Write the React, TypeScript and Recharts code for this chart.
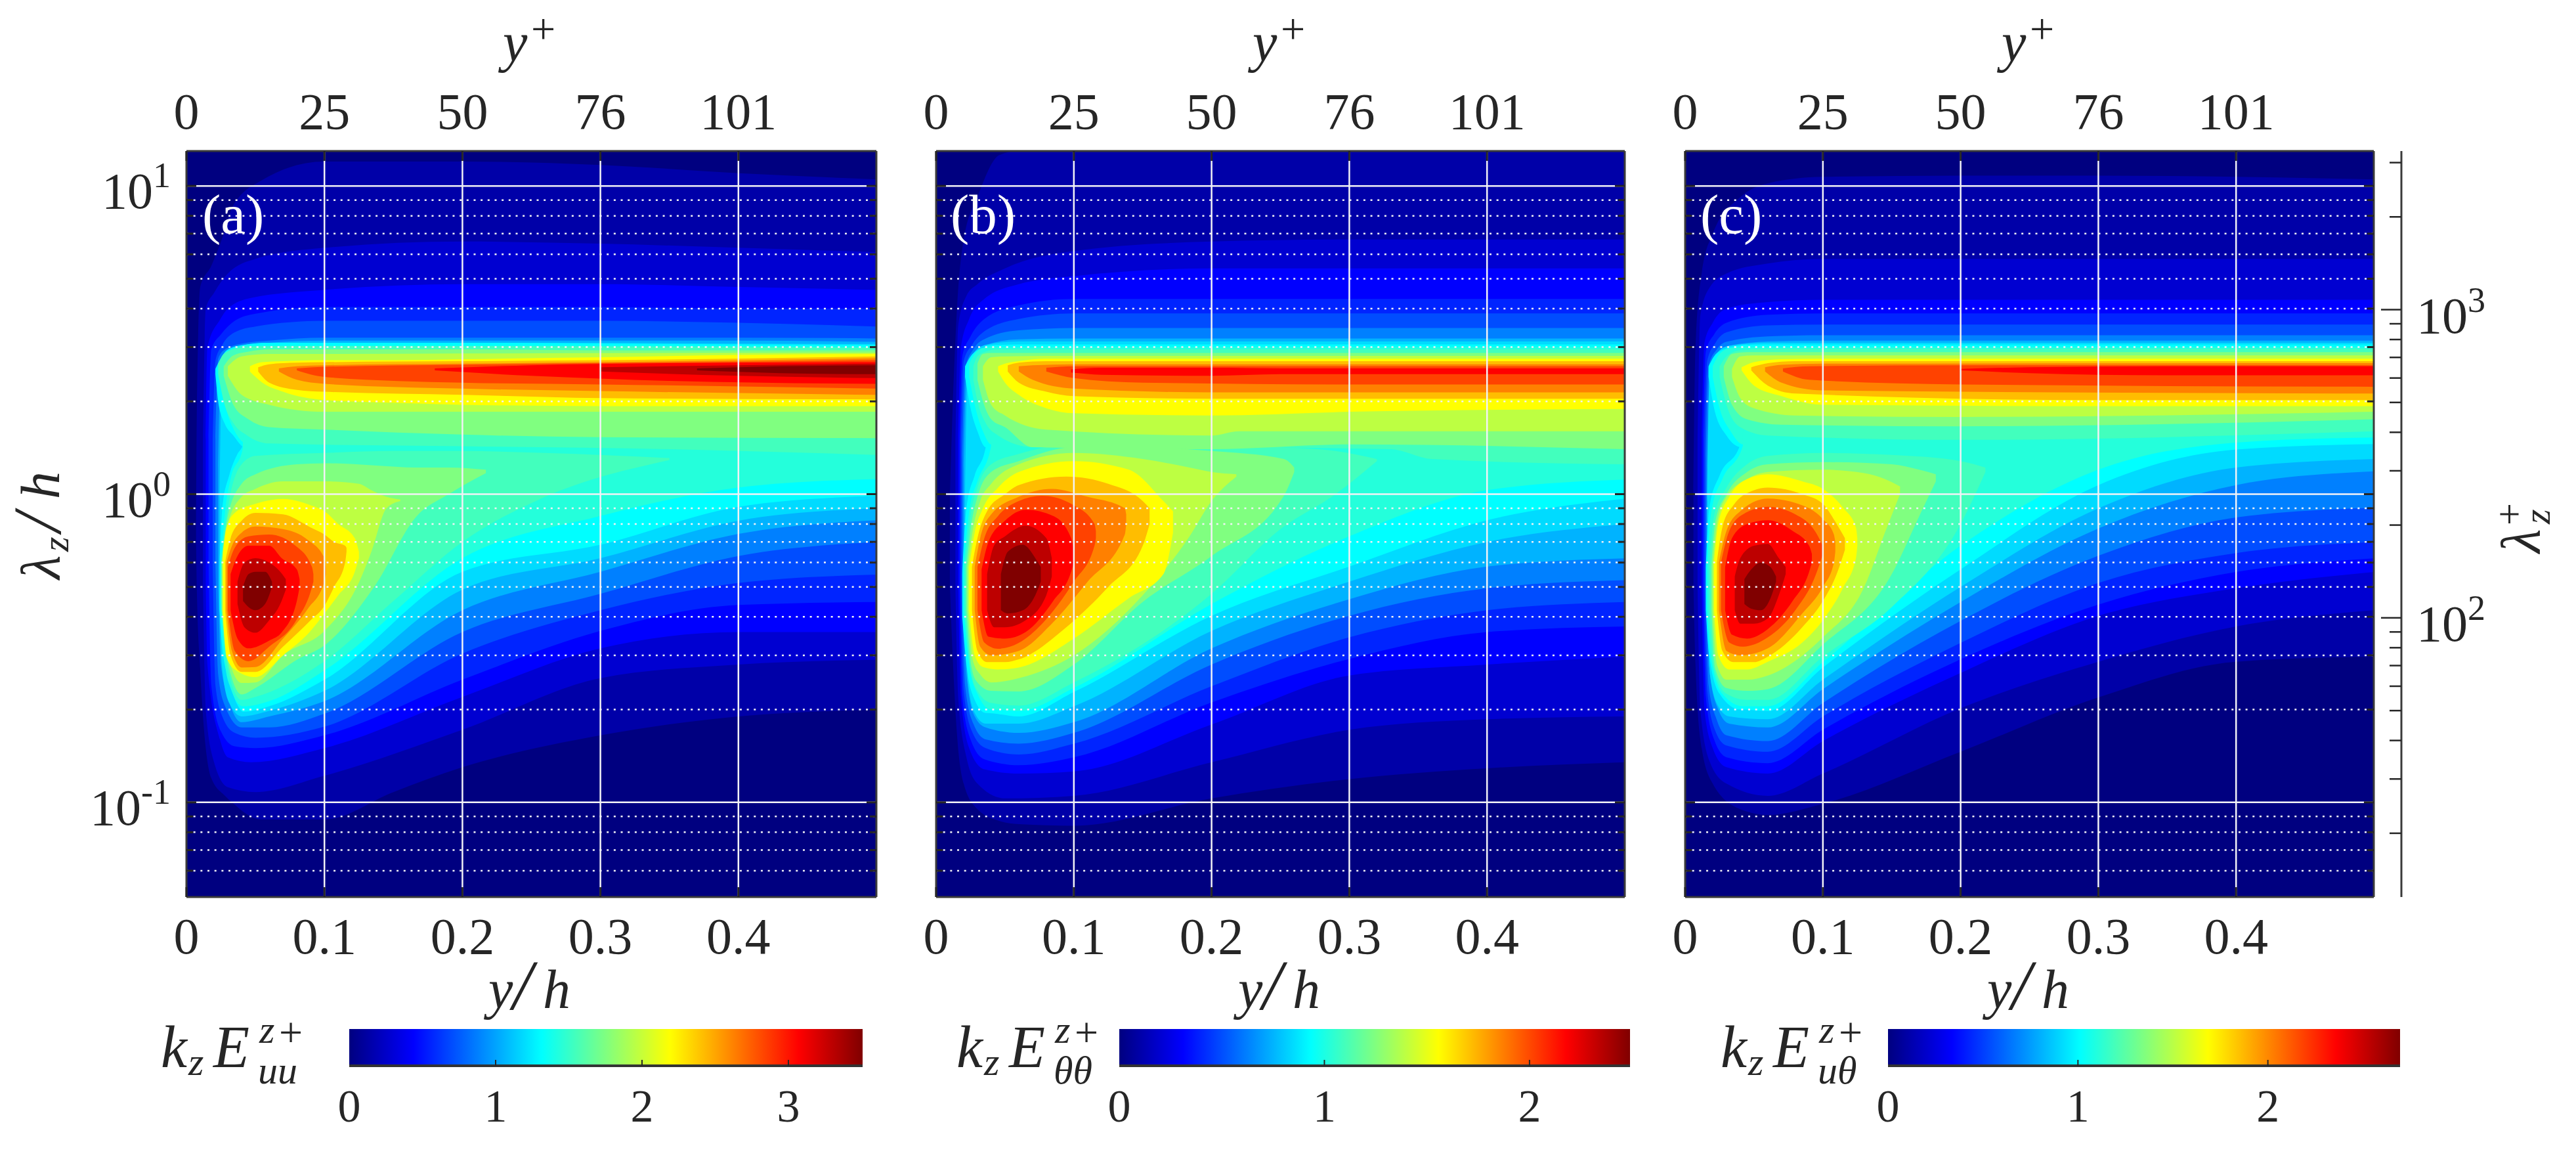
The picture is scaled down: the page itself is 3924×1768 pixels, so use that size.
import React from "react";
import { ComposedChart, Area, XAxis, YAxis, ReferenceLine } from "recharts";

type Row = [number, number, number];
type Contour = [number, Row[]];

const LAMBDA_DOMAIN = [0.0493, 12.98];
const YH_TICKS = [0, 0.1, 0.2, 0.3, 0.4];
const YPLUS_TICKS = [0, 25.2, 50.4, 75.6, 100.8];
const DECADES = [0.1, 1, 10];
const MINORS = [0.06, 0.07, 0.08, 0.09, 0.2, 0.3, 0.4, 0.5, 0.6, 0.7, 0.8, 0.9, 2, 3, 4, 5, 6, 7, 8, 9];
const LPLUS_TICKS = [20, 30, 40, 50, 60, 70, 80, 90, 100, 200, 300, 400, 500, 600, 700, 800, 900, 1000, 2000, 3000];
const BACKGROUND: Row[] = [[0, 0.0493, 12.98], [0.5, 0.0493, 12.98]];
const JET_STOPS = [0, 0.125, 0.375, 0.625, 0.875, 1];

// contours: [colormap fraction, rows of [y/h, lambda low, lambda high]]
const panelAContours: Contour[] = [
  [0.04, [[0.007, 0.7, 0.9], [0.0075, 0.5, 1.8], [0.01, 0.27, 4.7], [0.018, 0.12, 5.5], [0.028, 0.105, 7.2], [0.033, 0.1, 8.5], [0.054, 0.088, 10.4], [0.1, 0.088, 12], [0.15, 0.108, 12], [0.2, 0.13, 12], [0.3, 0.165, 11.7], [0.4, 0.19, 11], [0.5, 0.2, 10.5]]],
  [0.08, [[0.012, 0.5, 1.5], [0.014, 0.2, 4.0], [0.02, 0.135, 4.5], [0.03, 0.112, 5.2], [0.05, 0.108, 5.8], [0.1, 0.122, 6.3], [0.2, 0.172, 6.6], [0.3, 0.253, 6.5], [0.4, 0.28, 6.3], [0.5, 0.29, 6.1]]],
  [0.125, [[0.014, 0.5, 1.5], [0.0152, 0.28, 3.0], [0.0243, 0.16, 3.68], [0.03, 0.14, 4.0], [0.0467, 0.135, 4.33], [0.1, 0.15, 4.6], [0.2, 0.22, 4.8], [0.3, 0.316, 4.8], [0.4, 0.357, 4.7], [0.5, 0.357, 4.6]]],
  [0.16, [[0.016, 0.6, 1.5], [0.018, 0.24, 2.95], [0.025, 0.17, 3.3], [0.035, 0.152, 3.65], [0.05, 0.15, 3.85], [0.1, 0.165, 4.05], [0.2, 0.25, 4.05], [0.3, 0.36, 4.05], [0.4, 0.437, 4.0], [0.5, 0.447, 4.0]]],
  [0.2, [[0.019, 0.6, 1.5], [0.021, 0.24, 2.7], [0.026, 0.19, 3.05], [0.035, 0.168, 3.35], [0.05, 0.162, 3.5], [0.1, 0.176, 3.65], [0.2, 0.304, 3.65], [0.3, 0.42, 3.65], [0.4, 0.515, 3.6], [0.5, 0.548, 3.5]]],
  [0.25, [[0.021, 0.6, 1.5], [0.023, 0.26, 2.75], [0.028, 0.205, 2.95], [0.04, 0.175, 3.08], [0.06, 0.175, 3.15], [0.1, 0.194, 3.22], [0.2, 0.357, 3.22], [0.3, 0.475, 3.22], [0.4, 0.63, 3.22], [0.5, 0.7, 3.2]]],
  [0.3, [[0.023, 0.5, 1.2], [0.025, 0.28, 2.7], [0.03, 0.22, 2.9], [0.04, 0.182, 3.03], [0.06, 0.19, 3.1], [0.1, 0.213, 3.15], [0.2, 0.42, 3.15], [0.3, 0.56, 3.15], [0.4, 0.743, 3.15], [0.5, 0.823, 3.12]]],
  [0.34, [[0.024, 0.45, 0.9], [0.026, 0.27, 2.6], [0.031, 0.21, 2.88], [0.04, 0.19, 3.0], [0.06, 0.198, 3.07], [0.1, 0.23, 3.1], [0.2, 0.49, 3.1], [0.3, 0.62, 3.1], [0.4, 0.82, 3.08], [0.5, 0.9, 3.07]]],
  [0.375, [[0.021, 2.45, 2.55], [0.023, 2.0, 2.66], [0.0276, 1.7, 2.88], [0.034, 1.55, 3.0], [0.042, 1.42, 3.05], [0.0576, 1.4, 3.1]]],
  [0.375, [[0.024, 0.42, 0.6], [0.026, 0.316, 0.9], [0.031, 0.248, 1.15], [0.037, 0.207, 1.35], [0.041, 0.197, 1.45], [0.0415, 0.197, 3.05], [0.06, 0.205, 3.1], [0.1, 0.25, 3.1], [0.2, 0.56, 3.1], [0.3, 0.685, 3.08], [0.4, 0.91, 3.06], [0.5, 0.988, 3.05]]],
  [0.41, [[0.024, 2.42, 2.6], [0.028, 1.95, 2.85], [0.035, 1.6, 2.98], [0.043, 1.45, 3.03], [0.047, 1.42, 3.03]]],
  [0.41, [[0.025, 0.42, 0.6], [0.028, 0.28, 0.88], [0.032, 0.235, 1.12], [0.041, 0.205, 1.42], [0.0415, 0.205, 3.03], [0.06, 0.213, 3.03], [0.1, 0.268, 3.03], [0.2, 0.62, 3.03], [0.3, 0.85, 3.03], [0.4, 1.05, 3.02], [0.5, 1.12, 3.0]]],
  [0.44, [[0.023, 2.45, 2.65], [0.027, 2.0, 2.85], [0.034, 1.7, 2.95], [0.044, 1.55, 3.0], [0.06, 1.46, 3.02], [0.2, 1.43, 3.02], [0.35, 1.4, 3.0], [0.5, 1.34, 2.98]]],
  [0.44, [[0.025, 0.45, 0.6], [0.03, 0.27, 0.9], [0.04, 0.215, 1.25], [0.05, 0.22, 1.33], [0.1, 0.287, 1.36], [0.15, 0.45, 1.38], [0.2, 0.7, 1.38], [0.26, 0.98, 1.36], [0.35, 1.29, 1.31]]],
  [0.5, [[0.027, 2.42, 2.6], [0.034, 1.95, 2.82], [0.045, 1.75, 2.9], [0.06, 1.65, 2.95], [0.1, 1.62, 2.95], [0.2, 1.56, 2.95], [0.3, 1.53, 2.93], [0.5, 1.52, 2.93]]],
  [0.5, [[0.0255, 0.42, 0.6], [0.03, 0.285, 0.85], [0.04, 0.224, 1.08], [0.05, 0.235, 1.16], [0.08, 0.29, 1.25], [0.1, 0.323, 1.26], [0.136, 0.5, 1.24], [0.167, 0.85, 1.22], [0.19, 1.0, 1.22], [0.217, 1.17, 1.2]]],
  [0.56, [[0.03, 2.42, 2.6], [0.04, 2.1, 2.8], [0.06, 1.95, 2.85], [0.1, 1.85, 2.85], [0.2, 1.85, 2.86], [0.5, 1.85, 2.88]]],
  [0.56, [[0.026, 0.42, 0.62], [0.03, 0.3, 0.8], [0.04, 0.244, 0.98], [0.05, 0.245, 1.04], [0.07, 0.3, 1.1], [0.1, 0.36, 1.1], [0.125, 0.517, 1.08], [0.134, 0.65, 1.03], [0.145, 0.9, 0.98], [0.155, 0.95, 0.96]]],
  [0.625, [[0.046, 2.5, 2.6], [0.055, 2.3, 2.68], [0.07, 2.15, 2.7], [0.1, 2.02, 2.72], [0.15, 1.98, 2.72], [0.2, 1.95, 2.74], [0.3, 1.93, 2.78], [0.4, 1.93, 2.83], [0.5, 1.93, 2.85]]],
  [0.625, [[0.0265, 0.4, 0.65], [0.029, 0.297, 0.78], [0.035, 0.27, 0.87], [0.05, 0.255, 0.93], [0.07, 0.3, 0.965], [0.09, 0.36, 0.92], [0.1, 0.41, 0.88], [0.11, 0.47, 0.8], [0.122, 0.56, 0.72], [0.125, 0.62, 0.65]]],
  [0.69, [[0.052, 2.5, 2.58], [0.06, 2.3, 2.64], [0.08, 2.18, 2.67], [0.1, 2.15, 2.68], [0.2, 2.1, 2.7], [0.3, 2.05, 2.72], [0.5, 2.03, 2.8]]],
  [0.69, [[0.028, 0.42, 0.6], [0.032, 0.3, 0.72], [0.04, 0.265, 0.82], [0.05, 0.265, 0.87], [0.07, 0.32, 0.86], [0.09, 0.39, 0.78], [0.1, 0.434, 0.74], [0.107, 0.5, 0.7], [0.115, 0.6, 0.68], [0.116, 0.65, 0.67]]],
  [0.75, [[0.067, 2.5, 2.56], [0.08, 2.35, 2.6], [0.1, 2.28, 2.62], [0.2, 2.2, 2.65], [0.3, 2.16, 2.68], [0.5, 2.1, 2.76]]],
  [0.75, [[0.029, 0.42, 0.6], [0.033, 0.31, 0.68], [0.04, 0.274, 0.75], [0.05, 0.275, 0.785], [0.07, 0.34, 0.77], [0.088, 0.425, 0.71], [0.1, 0.52, 0.62], [0.101, 0.55, 0.58]]],
  [0.81, [[0.08, 2.52, 2.56], [0.1, 2.4, 2.59], [0.2, 2.3, 2.63], [0.3, 2.27, 2.66], [0.5, 2.2, 2.72]]],
  [0.81, [[0.03, 0.42, 0.58], [0.035, 0.31, 0.67], [0.045, 0.287, 0.73], [0.06, 0.32, 0.74], [0.079, 0.386, 0.68], [0.091, 0.5, 0.58], [0.092, 0.52, 0.55]]],
  [0.875, [[0.18, 2.52, 2.56], [0.25, 2.42, 2.62], [0.35, 2.33, 2.66], [0.5, 2.28, 2.68]]],
  [0.875, [[0.032, 0.42, 0.55], [0.037, 0.34, 0.63], [0.045, 0.316, 0.68], [0.06, 0.335, 0.68], [0.069, 0.356, 0.62], [0.08, 0.45, 0.57], [0.082, 0.5, 0.53]]],
  [0.94, [[0.3, 2.5, 2.58], [0.4, 2.42, 2.62], [0.5, 2.38, 2.65]]],
  [0.94, [[0.037, 0.44, 0.52], [0.042, 0.37, 0.6], [0.05, 0.355, 0.62], [0.06, 0.39, 0.6], [0.068, 0.44, 0.56], [0.072, 0.49, 0.53]]],
  [1, [[0.37, 2.52, 2.56], [0.43, 2.47, 2.6], [0.5, 2.45, 2.62]]],
  [1, [[0.041, 0.45, 0.5], [0.045, 0.43, 0.55], [0.05, 0.42, 0.56], [0.057, 0.44, 0.56], [0.062, 0.5, 0.52]]],
];

const panelBContours: Contour[] = [
  [0.04, [[0.01, 0.5, 1], [0.012, 0.3, 1.9], [0.015, 0.17, 3.9], [0.02, 0.115, 6.7], [0.03, 0.095, 9.2], [0.046, 0.087, 12.6], [0.06, 0.085, 12.98], [0.1, 0.084, 12.98], [0.2, 0.103, 12.98], [0.3, 0.119, 12.98], [0.4, 0.129, 12.98], [0.5, 0.135, 12.98]]],
  [0.08, [[0.014, 0.5, 1.5], [0.016, 0.22, 3.5], [0.022, 0.14, 4.4], [0.03, 0.115, 4.8], [0.05, 0.103, 5.4], [0.1, 0.105, 6.15], [0.2, 0.135, 6.6], [0.3, 0.172, 6.7], [0.4, 0.186, 6.7], [0.5, 0.19, 6.7]]],
  [0.125, [[0.016, 0.5, 1.5], [0.018, 0.22, 3.0], [0.024, 0.15, 3.7], [0.035, 0.128, 4.3], [0.06, 0.124, 4.8], [0.1, 0.126, 5.1], [0.2, 0.179, 5.4], [0.3, 0.258, 5.4], [0.4, 0.28, 5.4], [0.5, 0.297, 5.4]]],
  [0.16, [[0.017, 0.5, 1.5], [0.019, 0.22, 2.8], [0.025, 0.16, 3.25], [0.035, 0.138, 3.7], [0.06, 0.132, 4.1], [0.1, 0.14, 4.3], [0.2, 0.211, 4.3], [0.3, 0.292, 4.3], [0.4, 0.357, 4.3], [0.5, 0.372, 4.3]]],
  [0.2, [[0.018, 0.5, 1.5], [0.02, 0.23, 2.7], [0.026, 0.17, 3.05], [0.036, 0.15, 3.4], [0.06, 0.143, 3.7], [0.1, 0.155, 3.86], [0.2, 0.238, 3.86], [0.3, 0.343, 3.86], [0.4, 0.42, 3.86], [0.5, 0.447, 3.86]]],
  [0.25, [[0.019, 0.5, 1.3], [0.021, 0.24, 2.55], [0.027, 0.18, 2.95], [0.036, 0.16, 3.2], [0.06, 0.155, 3.4], [0.1, 0.168, 3.46], [0.2, 0.28, 3.46], [0.3, 0.403, 3.46], [0.4, 0.495, 3.46], [0.5, 0.526, 3.46]]],
  [0.3, [[0.02, 0.5, 1.2], [0.022, 0.26, 2.5], [0.028, 0.19, 2.85], [0.036, 0.175, 3.05], [0.06, 0.168, 3.18], [0.1, 0.182, 3.2], [0.2, 0.316, 3.2], [0.3, 0.456, 3.2], [0.4, 0.582, 3.2], [0.5, 0.619, 3.2]]],
  [0.34, [[0.021, 0.45, 0.9], [0.023, 0.25, 2.6], [0.028, 0.195, 2.9], [0.036, 0.18, 3.05], [0.06, 0.18, 3.13], [0.1, 0.205, 3.13], [0.2, 0.36, 3.13], [0.3, 0.52, 3.13], [0.4, 0.7, 3.13], [0.5, 0.8, 3.13]]],
  [0.375, [[0.021, 2.4, 2.6], [0.025, 1.9, 2.8], [0.03, 1.6, 2.93], [0.036, 1.42, 3.0], [0.04, 1.42, 3.03]]],
  [0.375, [[0.019, 0.4, 0.55], [0.022, 0.28, 0.9], [0.028, 0.215, 1.15], [0.036, 0.195, 1.42], [0.0365, 0.195, 3.03], [0.06, 0.19, 3.06], [0.1, 0.228, 3.06], [0.2, 0.403, 3.06], [0.3, 0.582, 3.06], [0.4, 0.823, 3.06], [0.5, 0.968, 3.06]]],
  [0.41, [[0.024, 2.4, 2.65], [0.028, 1.95, 2.85], [0.034, 1.6, 2.98], [0.04, 1.45, 3.0], [0.045, 1.45, 3.0]]],
  [0.41, [[0.02, 0.42, 0.58], [0.024, 0.28, 0.88], [0.03, 0.225, 1.1], [0.04, 0.2, 1.44], [0.0405, 0.2, 3.0], [0.06, 0.198, 3.0], [0.1, 0.235, 3.0], [0.2, 0.44, 3.0], [0.3, 0.73, 3.0], [0.4, 1.03, 3.0], [0.5, 1.116, 3.0]]],
  [0.44, [[0.027, 2.35, 2.6], [0.03, 2.0, 2.8], [0.036, 1.7, 2.9], [0.045, 1.55, 2.95], [0.07, 1.42, 2.95], [0.2, 1.42, 2.95], [0.33, 1.4, 2.95], [0.36, 1.3, 2.95], [0.5, 1.25, 2.95]]],
  [0.44, [[0.021, 0.42, 0.58], [0.025, 0.27, 0.85], [0.03, 0.23, 1.05], [0.04, 0.21, 1.25], [0.06, 0.206, 1.35], [0.1, 0.245, 1.45], [0.2, 0.475, 1.45], [0.25, 0.77, 1.42], [0.29, 1.0, 1.38], [0.32, 1.28, 1.3]]],
  [0.5, [[0.03, 2.35, 2.65], [0.034, 2.0, 2.85], [0.04, 1.75, 2.87], [0.05, 1.65, 2.87], [0.07, 1.42, 2.87], [0.2, 1.4, 2.87], [0.3, 1.45, 2.87], [0.5, 1.4, 2.87]]],
  [0.5, [[0.022, 0.42, 0.58], [0.026, 0.27, 0.82], [0.03, 0.245, 0.98], [0.04, 0.23, 1.18], [0.06, 0.229, 1.28], [0.1, 0.28, 1.42], [0.15, 0.447, 1.42], [0.2, 0.63, 1.38], [0.2526, 0.99, 1.3], [0.26, 1.18, 1.22]]],
  [0.56, [[0.034, 2.35, 2.6], [0.04, 1.95, 2.78], [0.05, 1.8, 2.8], [0.08, 1.62, 2.81], [0.2, 1.55, 2.81], [0.22, 1.6, 2.81], [0.35, 1.6, 2.81], [0.5, 1.6, 2.81]]],
  [0.56, [[0.023, 0.42, 0.58], [0.027, 0.285, 0.78], [0.032, 0.26, 0.95], [0.04, 0.245, 1.08], [0.06, 0.253, 1.25], [0.1, 0.3, 1.36], [0.15, 0.47, 1.3], [0.184, 0.73, 1.22], [0.2, 0.95, 1.18], [0.218, 1.14, 1.16]]],
  [0.625, [[0.045, 2.5, 2.6], [0.05, 2.3, 2.65], [0.06, 2.1, 2.7], [0.08, 1.9, 2.75], [0.1, 1.83, 2.75], [0.2, 1.8, 2.75], [0.3, 1.85, 2.75], [0.5, 1.89, 2.75]]],
  [0.625, [[0.024, 0.42, 0.58], [0.028, 0.3, 0.75], [0.034, 0.275, 0.9], [0.045, 0.27, 1.05], [0.06, 0.274, 1.18], [0.1, 0.34, 1.28], [0.14, 0.46, 1.2], [0.165, 0.55, 0.95], [0.172, 0.75, 0.88]]],
  [0.69, [[0.052, 2.5, 2.62], [0.06, 2.3, 2.67], [0.08, 2.15, 2.7], [0.1, 2.08, 2.7], [0.2, 2.04, 2.7], [0.5, 2.04, 2.7]]],
  [0.69, [[0.026, 0.42, 0.58], [0.03, 0.31, 0.72], [0.037, 0.285, 0.88], [0.05, 0.285, 1.0], [0.06, 0.291, 1.07], [0.0945, 0.37, 1.14], [0.125, 0.5, 1.08], [0.15, 0.68, 0.95], [0.155, 0.8, 0.9]]],
  [0.75, [[0.06, 2.5, 2.6], [0.07, 2.35, 2.62], [0.1, 2.2, 2.64], [0.2, 2.14, 2.64], [0.5, 2.14, 2.64]]],
  [0.75, [[0.028, 0.42, 0.58], [0.032, 0.32, 0.72], [0.04, 0.3, 0.86], [0.06, 0.31, 0.98], [0.084, 0.38, 1.04], [0.11, 0.52, 0.98], [0.137, 0.74, 0.9], [0.138, 0.8, 0.86]]],
  [0.81, [[0.08, 2.5, 2.57], [0.1, 2.38, 2.6], [0.15, 2.3, 2.6], [0.3, 2.27, 2.6], [0.5, 2.27, 2.6]]],
  [0.81, [[0.03, 0.42, 0.58], [0.035, 0.33, 0.72], [0.045, 0.315, 0.85], [0.06, 0.329, 0.95], [0.077, 0.38, 0.988], [0.1, 0.52, 0.92], [0.115, 0.68, 0.8], [0.116, 0.72, 0.76]]],
  [0.875, [[0.098, 2.48, 2.54], [0.12, 2.44, 2.57], [0.2, 2.42, 2.57], [0.25, 2.45, 2.56], [0.5, 2.45, 2.56]]],
  [0.875, [[0.033, 0.42, 0.57], [0.038, 0.345, 0.7], [0.05, 0.34, 0.82], [0.065, 0.357, 0.89], [0.085, 0.45, 0.85], [0.098, 0.56, 0.72], [0.1, 0.6, 0.66]]],
  [0.94, [[0.037, 0.42, 0.55], [0.042, 0.37, 0.68], [0.05, 0.37, 0.73], [0.065, 0.39, 0.79], [0.08, 0.47, 0.72], [0.084, 0.54, 0.62]]],
  [1, [[0.047, 0.42, 0.55], [0.052, 0.41, 0.65], [0.063, 0.42, 0.685], [0.072, 0.47, 0.62], [0.076, 0.52, 0.58]]],
];

const panelCContours: Contour[] = [
  [0.04, [[0.006, 0.5, 1], [0.0075, 0.28, 3], [0.012, 0.15, 5.2], [0.02, 0.115, 7], [0.04, 0.095, 9.2], [0.06, 0.091, 10.2], [0.1, 0.099, 10.7], [0.2, 0.146, 10.8], [0.3, 0.219, 10.8], [0.4, 0.286, 10.7], [0.5, 0.297, 10.5]]],
  [0.08, [[0.009, 0.5, 1.5], [0.011, 0.2, 3.8], [0.018, 0.135, 4.7], [0.03, 0.115, 5.2], [0.06, 0.105, 5.6], [0.1, 0.124, 5.8], [0.2, 0.202, 5.8], [0.3, 0.286, 5.8], [0.4, 0.372, 5.8], [0.5, 0.42, 5.8]]],
  [0.125, [[0.012, 0.5, 1.5], [0.014, 0.2, 3.1], [0.02, 0.15, 3.6], [0.03, 0.13, 4], [0.06, 0.124, 4.2], [0.1, 0.158, 4.27], [0.2, 0.263, 4.27], [0.3, 0.403, 4.27], [0.4, 0.495, 4.27], [0.5, 0.559, 4.27]]],
  [0.16, [[0.013, 0.5, 1.5], [0.015, 0.22, 2.9], [0.021, 0.16, 3.3], [0.03, 0.14, 3.6], [0.06, 0.134, 3.82], [0.1, 0.172, 3.86], [0.2, 0.291, 3.86], [0.3, 0.438, 3.86], [0.4, 0.559, 3.86], [0.5, 0.619, 3.86]]],
  [0.2, [[0.014, 0.5, 1.5], [0.016, 0.23, 2.7], [0.022, 0.17, 3.1], [0.03, 0.153, 3.35], [0.06, 0.146, 3.53], [0.1, 0.19, 3.55], [0.2, 0.329, 3.55], [0.3, 0.515, 3.55], [0.4, 0.644, 3.55], [0.5, 0.699, 3.55]]],
  [0.25, [[0.015, 0.5, 1.3], [0.017, 0.24, 2.6], [0.023, 0.185, 2.95], [0.03, 0.165, 3.12], [0.06, 0.158, 3.25], [0.1, 0.21, 3.28], [0.2, 0.388, 3.28], [0.3, 0.631, 3.28], [0.4, 0.84, 3.28], [0.5, 0.903, 3.28]]],
  [0.3, [[0.016, 0.5, 1.2], [0.018, 0.26, 2.5], [0.024, 0.2, 2.85], [0.032, 0.18, 3.03], [0.06, 0.175, 3.13], [0.1, 0.233, 3.15], [0.2, 0.447, 3.15], [0.3, 0.774, 3.15], [0.4, 1.07, 3.15], [0.5, 1.186, 3.15]]],
  [0.34, [[0.016, 0.45, 0.9], [0.018, 0.26, 2.6], [0.024, 0.205, 2.9], [0.032, 0.19, 3.03], [0.06, 0.186, 3.1], [0.1, 0.25, 3.1], [0.2, 0.5, 3.1], [0.3, 0.9, 3.1], [0.4, 1.22, 3.1], [0.5, 1.3, 3.1]]],
  [0.375, [[0.017, 2.4, 2.6], [0.021, 1.9, 2.8], [0.03, 1.55, 2.97], [0.041, 1.42, 3.04], [0.045, 1.42, 3.06]]],
  [0.375, [[0.015, 0.42, 0.58], [0.0175, 0.3, 0.9], [0.025, 0.225, 1.15], [0.04, 0.2, 1.45], [0.0405, 0.2, 3.04], [0.06, 0.198, 3.06], [0.1, 0.274, 3.06], [0.2, 0.57, 3.06], [0.3, 1.07, 3.06], [0.4, 1.396, 3.06], [0.5, 1.454, 3.06]]],
  [0.41, [[0.02, 2.4, 2.6], [0.025, 1.9, 2.85], [0.033, 1.6, 2.98], [0.042, 1.45, 3.0], [0.046, 1.45, 3.0]]],
  [0.41, [[0.016, 0.42, 0.58], [0.019, 0.29, 0.88], [0.027, 0.225, 1.12], [0.042, 0.205, 1.44], [0.0425, 0.205, 3.0], [0.06, 0.205, 3.0], [0.1, 0.285, 3.0], [0.2, 0.68, 3.0], [0.3, 1.2, 3.0], [0.4, 1.47, 3.0], [0.5, 1.527, 3.0]]],
  [0.44, [[0.025, 2.4, 2.6], [0.03, 1.95, 2.8], [0.04, 1.65, 2.93], [0.06, 1.55, 2.96], [0.2, 1.5, 2.96], [0.5, 1.6, 2.96]]],
  [0.44, [[0.0175, 0.42, 0.58], [0.021, 0.27, 0.85], [0.03, 0.225, 1.05], [0.045, 0.215, 1.25], [0.06, 0.215, 1.33], [0.1, 0.297, 1.36], [0.15, 0.43, 1.34], [0.2, 0.8, 1.28], [0.218, 1.18, 1.22]]],
  [0.5, [[0.028, 2.4, 2.6], [0.034, 1.95, 2.85], [0.045, 1.75, 2.89], [0.07, 1.68, 2.89], [0.2, 1.66, 2.89], [0.5, 1.75, 2.89]]],
  [0.5, [[0.019, 0.42, 0.58], [0.022, 0.27, 0.82], [0.03, 0.235, 1.0], [0.045, 0.23, 1.18], [0.06, 0.233, 1.25], [0.1, 0.325, 1.27], [0.15, 0.55, 1.25], [0.17, 0.85, 1.2], [0.182, 1.1, 1.16]]],
  [0.56, [[0.034, 2.4, 2.55], [0.04, 2.05, 2.8], [0.05, 1.9, 2.82], [0.08, 1.8, 2.82], [0.2, 1.78, 2.82], [0.5, 1.85, 2.82]]],
  [0.56, [[0.02, 0.42, 0.58], [0.023, 0.28, 0.8], [0.03, 0.25, 0.98], [0.045, 0.25, 1.12], [0.06, 0.258, 1.18], [0.1, 0.343, 1.2], [0.13, 0.5, 1.17], [0.145, 0.75, 1.12], [0.156, 1.0, 1.06]]],
  [0.625, [[0.041, 2.52, 2.58], [0.05, 2.25, 2.68], [0.07, 2.08, 2.74], [0.1, 1.95, 2.75], [0.3, 1.93, 2.75], [0.5, 1.93, 2.75]]],
  [0.625, [[0.021, 0.42, 0.6], [0.024, 0.3, 0.8], [0.032, 0.27, 0.98], [0.045, 0.27, 1.12], [0.06, 0.286, 1.16], [0.085, 0.33, 1.1], [0.1, 0.39, 1.04], [0.115, 0.5, 0.9], [0.124, 0.62, 0.78], [0.125, 0.68, 0.72]]],
  [0.69, [[0.048, 2.52, 2.58], [0.06, 2.25, 2.66], [0.08, 2.12, 2.7], [0.3, 2.02, 2.7], [0.5, 2.02, 2.7]]],
  [0.69, [[0.023, 0.42, 0.6], [0.027, 0.31, 0.78], [0.035, 0.285, 0.92], [0.05, 0.285, 1.03], [0.06, 0.297, 1.05], [0.085, 0.37, 1.0], [0.1, 0.45, 0.93], [0.11, 0.55, 0.8], [0.116, 0.66, 0.72]]],
  [0.75, [[0.058, 2.5, 2.58], [0.07, 2.3, 2.63], [0.1, 2.17, 2.65], [0.5, 2.12, 2.66]]],
  [0.75, [[0.0245, 0.42, 0.6], [0.03, 0.31, 0.76], [0.04, 0.3, 0.88], [0.06, 0.316, 0.968], [0.085, 0.41, 0.92], [0.1, 0.5, 0.83], [0.108, 0.6, 0.74], [0.109, 0.65, 0.7]]],
  [0.81, [[0.071, 2.5, 2.56], [0.09, 2.35, 2.6], [0.2, 2.27, 2.62], [0.5, 2.23, 2.62]]],
  [0.81, [[0.026, 0.42, 0.6], [0.032, 0.33, 0.76], [0.042, 0.32, 0.86], [0.06, 0.343, 0.91], [0.08, 0.42, 0.86], [0.095, 0.55, 0.75], [0.1, 0.64, 0.68]]],
  [0.875, [[0.2, 2.52, 2.55], [0.25, 2.47, 2.58], [0.35, 2.43, 2.6], [0.5, 2.43, 2.6]]],
  [0.875, [[0.029, 0.42, 0.58], [0.034, 0.35, 0.72], [0.045, 0.34, 0.8], [0.06, 0.365, 0.823], [0.078, 0.45, 0.76], [0.09, 0.56, 0.68], [0.092, 0.6, 0.64]]],
  [0.94, [[0.036, 0.42, 0.54], [0.04, 0.38, 0.62], [0.05, 0.38, 0.68], [0.06, 0.395, 0.69], [0.068, 0.47, 0.62], [0.073, 0.55, 0.58]]],
  [1, [[0.043, 0.44, 0.53], [0.048, 0.425, 0.57], [0.055, 0.42, 0.6], [0.062, 0.46, 0.58], [0.066, 0.52, 0.54]]],
];

const colorbarA = { max: 3.507, ticks: [0, 1, 2, 3] };
const colorbarB = { max: 2.49, ticks: [0, 1, 2] };
const colorbarC = { max: 2.696, ticks: [0, 1, 2] };

const SERIF = "'Liberation Serif', 'Times New Roman', serif";
const INK = "#262626";
const GRID = "#f2f2f6";

function clamp01(v: number) { return Math.max(0, Math.min(1, v)); }
function jet(f: number) {
  const r = clamp01(Math.min(4 * f - 1.5, -4 * f + 4.5));
  const g = clamp01(Math.min(4 * f - 0.5, -4 * f + 3.5));
  const b = clamp01(Math.min(4 * f + 0.5, -4 * f + 2.5));
  return `rgb(${Math.round(r * 255)},${Math.round(g * 255)},${Math.round(b * 255)})`;
}
const toRows = (rows: Row[]) => rows.map(([x, lo, hi]) => ({ x, range: [lo, hi] }));

function isMajorLambda(v: number) { return DECADES.includes(v); }

function Panel({ left, plotWidth, contours, showLeftLabels, rightAxis }: { left: number; plotWidth: number; contours: Contour[]; showLeftLabels?: boolean; rightAxis?: boolean }) {
  const width = 284 + plotWidth + (rightAxis ? 242 : 10);
  const leftTick = (p: any) => {
    const v = p.payload.value;
    const major = isMajorLambda(v);
    const exp = v === 0.1 ? "-1" : v === 1 ? "0" : "1";
    return (
      <g>
        <line x1={p.x} x2={p.x + (major ? 15 : 10)} y1={p.y} y2={p.y} stroke={INK} strokeWidth={3} />
        {showLeftLabels && major ? (
          <text x={p.x - 24} y={p.y + 34} textAnchor="end" fontFamily={SERIF} fill={INK} fontSize={78}>
            10<tspan dy={-32} fontSize={54}>{exp}</tspan>
          </text>
        ) : null}
      </g>
    );
  };
  const rightTick = (p: any) => {
    const major = isMajorLambda(p.payload.value);
    return <line x1={p.x} x2={p.x - (major ? 15 : 10)} y1={p.y} y2={p.y} stroke={INK} strokeWidth={3} />;
  };
  const plusTick = (p: any) => {
    const v = p.payload.value;
    const major = v === 100 || v === 1000;
    return (
      <g>
        <line x1={p.x} x2={p.x - (major ? 31 : 18)} y1={p.y} y2={p.y} stroke={INK} strokeWidth={2.5} />
        {major ? (
          <text x={p.x + 23} y={p.y + 35} fontFamily={SERIF} fill={INK} fontSize={78}>
            10<tspan dy={-32} fontSize={54}>{v === 100 ? "2" : "3"}</tspan>
          </text>
        ) : null}
      </g>
    );
  };
  const bottomTick = (p: any) => (
    <g>
      <line x1={p.x} x2={p.x} y1={p.y} y2={p.y - 15} stroke={INK} strokeWidth={3} />
      <text x={p.x} y={p.y + 86} textAnchor="middle" fontFamily={SERIF} fill={INK} fontSize={78}>{String(p.payload.value)}</text>
    </g>
  );
  const topTick = (p: any) => (
    <g>
      <line x1={p.x} x2={p.x} y1={p.y} y2={p.y + 15} stroke={INK} strokeWidth={3} />
      <text x={p.x} y={p.y - 34} textAnchor="middle" fontFamily={SERIF} fill={INK} fontSize={78}>{String(Math.round(p.payload.value))}</text>
    </g>
  );
  const axisLine = { stroke: "#3a3a3a", strokeWidth: 3 };
  return (
    <div style={{ position: "absolute", left, top: 0 }}>
      <ComposedChart width={width} height={1768} margin={{ top: 130, bottom: 302, left: 0, right: 0 }}>
        <XAxis xAxisId="b" dataKey="x" type="number" orientation="bottom" domain={[0, 0.5]} ticks={YH_TICKS} height={100} interval={0} allowDataOverflow tickSize={0} tickMargin={0} tickLine={false} axisLine={axisLine} tick={bottomTick} />
        <XAxis xAxisId="t" dataKey="xPlus" type="number" orientation="top" domain={[0, 126]} ticks={YPLUS_TICKS} height={100} interval={0} allowDataOverflow tickSize={0} tickMargin={0} tickLine={false} axisLine={axisLine} tick={topTick} />
        <YAxis yAxisId="l" type="number" scale="log" orientation="left" domain={LAMBDA_DOMAIN} ticks={[...DECADES, ...MINORS]} width={284} interval={0} allowDataOverflow tickSize={0} tickMargin={0} tickLine={false} axisLine={axisLine} tick={leftTick} />
        <YAxis yAxisId="r" type="number" scale="log" orientation="right" domain={LAMBDA_DOMAIN} ticks={[...DECADES, ...MINORS]} width={rightAxis ? 42 : 10} interval={0} allowDataOverflow tickSize={0} tickMargin={0} tickLine={false} axisLine={axisLine} tick={rightTick} />
        {rightAxis ? (
          <YAxis yAxisId="z" type="number" scale="log" orientation="right" domain={[12.42, 3271]} ticks={LPLUS_TICKS} width={200} interval={0} allowDataOverflow tickSize={0} tickMargin={0} tickLine={false} axisLine={axisLine} tick={plusTick} />
        ) : null}
        <Area xAxisId="b" yAxisId="l" data={toRows(BACKGROUND)} dataKey="range" type="linear" stroke="none" fill={jet(0)} fillOpacity={1} isAnimationActive={false} dot={false} activeDot={false} />
        {contours.map(([f, rows], i) => (
          <Area key={i} xAxisId="b" yAxisId="l" data={toRows(rows)} dataKey="range" type="monotone" stroke="none" fill={jet(f)} fillOpacity={1} isAnimationActive={false} dot={false} activeDot={false} />
        ))}
        {YH_TICKS.slice(1).map((v) => (
          <ReferenceLine key={`v${v}`} xAxisId="b" yAxisId="l" x={v} stroke={GRID} strokeWidth={2.5} isFront />
        ))}
        {DECADES.map((v) => (
          <ReferenceLine key={`h${v}`} xAxisId="b" yAxisId="l" y={v} stroke={GRID} strokeWidth={2.5} isFront />
        ))}
        {MINORS.map((v) => (
          <ReferenceLine key={`m${v}`} xAxisId="b" yAxisId="l" y={v} stroke={GRID} strokeWidth={2.5} strokeDasharray="3 7.67" isFront />
        ))}
      </ComposedChart>
    </div>
  );
}

function Colorbar({ id, left, width, cb }: { id: string; left: number; width: number; cb: { max: number; ticks: number[] } }) {
  const tick = (p: any) => (
    <g>
      {p.payload.value > 0 ? <line x1={p.x} x2={p.x} y1={p.y} y2={p.y - 9} stroke={INK} strokeWidth={2} /> : null}
      <text x={p.x} y={p.y + 85} textAnchor="middle" fontFamily={SERIF} fill={INK} fontSize={70}>{String(p.payload.value)}</text>
    </g>
  );
  const data = [{ v: 0, u: 1 }, { v: cb.max, u: 1 }];
  const line = { stroke: "#333333", strokeWidth: 4 };
  return (
    <div style={{ position: "absolute", left: left - 50, top: 1557 }}>
      <ComposedChart width={width + 100} height={180} data={data} margin={{ top: 10, bottom: 10, left: 50, right: 50 }}>
        <defs>
          <linearGradient id={id} x1="0" x2="1" y1="0" y2="0">
            {JET_STOPS.map((s) => <stop key={s} offset={s} stopColor={jet(s)} />)}
          </linearGradient>
        </defs>
        <XAxis dataKey="v" type="number" domain={[0, cb.max]} ticks={cb.ticks} height={104} interval={0} tickSize={0} tickMargin={0} tickLine={false} axisLine={line} tick={tick} />
        <XAxis xAxisId="top" dataKey="v" type="number" orientation="top" domain={[0, cb.max]} height={0} tick={false} tickLine={false} axisLine={line} />
        <YAxis hide domain={[0, 1]} />
        <Area dataKey="u" type="linear" stroke="none" fill={`url(#${id})`} fillOpacity={1} isAnimationActive={false} dot={false} activeDot={false} />
      </ComposedChart>
    </div>
  );
}

function MathLabel({ kx, sub }: { kx: number; sub: string }) {
  const it = { fontFamily: SERIF, fontStyle: "italic", fill: INK } as const;
  return (
    <g>
      <text x={kx} y={1625} fontSize={90} {...it}>k</text>
      <text x={kx + 42} y={1637} fontSize={60} {...it}>z</text>
      <text x={kx + 80} y={1625} fontSize={90} {...it}>E</text>
      <text x={kx + 150} y={1588} fontSize={60} {...it}>z</text>
      <text x={kx + 180} y={1594} fontSize={64} fontFamily={SERIF} fill={INK}>+</text>
      <text x={kx + 148} y={1650} fontSize={60} {...it}>{sub}</text>
    </g>
  );
}

function YPlus({ cx }: { cx: number }) {
  return (
    <g>
      <text x={cx - 43} y={93} fontSize={84} fontFamily={SERIF} fontStyle="italic" fill={INK}>y</text>
      <text x={cx + 0} y={66} fontSize={66} fontFamily={SERIF} fill={INK}>+</text>
    </g>
  );
}
function YOverH({ cx }: { cx: number }) {
  return (
    <g>
      <text x={cx - 65} y={1535} fontSize={84} fontFamily={SERIF} fontStyle="italic" fill={INK}>y</text>
      <text x={cx - 28} y={1537} fontSize={108} fontFamily={SERIF} fontStyle="italic" fill={INK}>/</text>
      <text x={cx + 18} y={1535} fontSize={84} fontFamily={SERIF} fontStyle="italic" fill={INK}>h</text>
    </g>
  );
}

export default function App() {
  const it = { fontFamily: SERIF, fontStyle: "italic", fill: INK } as const;
  return (
    <div style={{ position: "absolute", left: 0, top: 0, width: 3924, height: 1768, background: "#fff", overflow: "hidden" }}>
      <Panel left={0} plotWidth={1051} contours={panelAContours} showLeftLabels />
      <Panel left={1142} plotWidth={1049} contours={panelBContours} />
      <Panel left={2283} plotWidth={1049} contours={panelCContours} rightAxis />
      <Colorbar id="cbA" left={532} width={782} cb={colorbarA} />
      <Colorbar id="cbB" left={1705} width={778} cb={colorbarB} />
      <Colorbar id="cbC" left={2876} width={780} cb={colorbarC} />
      <svg width={3924} height={1768} style={{ position: "absolute", left: 0, top: 0, pointerEvents: "none" }}>
        <YPlus cx={809} /><YPlus cx={1951} /><YPlus cx={3092} />
        <YOverH cx={809} /><YOverH cx={1951} /><YOverH cx={3092} />
        <MathLabel kx={245} sub="uu" />
        <MathLabel kx={1457} sub="θθ" />
        <MathLabel kx={2621} sub="uθ" />
        <text x={308} y={355} fontSize={85} fontFamily={SERIF} fill="#fff">(a)</text>
        <text x={1448} y={355} fontSize={85} fontFamily={SERIF} fill="#fff">(b)</text>
        <text x={2590} y={355} fontSize={85} fontFamily={SERIF} fill="#fff">(c)</text>
        <g transform="translate(90,882) rotate(-90)">
          <text x={0} y={0} fontSize={84} {...it}>λ</text>
          <text x={42} y={14} fontSize={58} {...it}>z</text>
          <text x={72} y={2} fontSize={104} {...it}>/</text>
          <text x={122} y={0} fontSize={84} {...it}>h</text>
        </g>
        <g transform="translate(3868,842) rotate(-90)">
          <text x={0} y={0} fontSize={84} {...it}>λ</text>
          <text x={42} y={-26} fontSize={60} fontFamily={SERIF} fill={INK}>+</text>
          <text x={44} y={16} fontSize={58} {...it}>z</text>
        </g>
      </svg>
    </div>
  );
}
